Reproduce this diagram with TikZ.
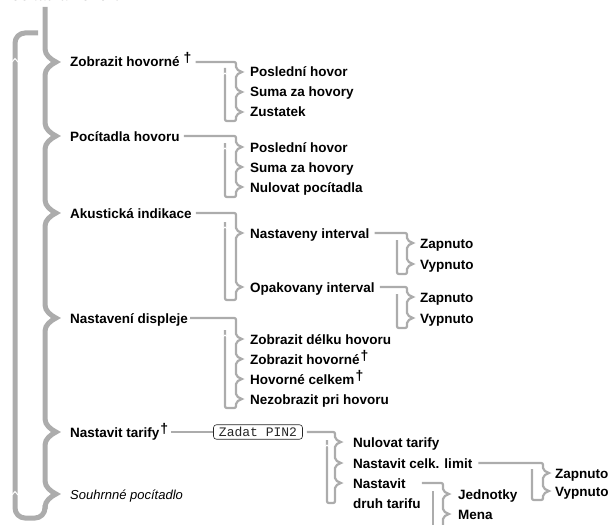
\documentclass[tikz,border=0pt]{standalone}
\usepackage{fontspec}
\setmainfont{Liberation Sans}
\newfontfamily\monof{Liberation Mono}
\definecolor{lg}{RGB}{172,172,172}
\newcommand\dg{\raisebox{4pt}{\bfseries\fontsize{14}{14}\selectfont †}}
\tikzset{
  itm/.style={anchor=west, inner sep=0pt, text height=10pt, text depth=0pt, font=\bfseries\fontsize{13.5}{16}\selectfont},
  mainln/.style={draw=lg, line width=5pt},
  subln/.style={draw=lg, line width=2.2pt},
  gapmark/.style={draw=white, line width=1pt},
  mtip/.style 2 args={insert path={-- (#1,{#2-13}) .. controls (#1,{#2-7}) and ({#1+6},{#2-2.5}) .. ({#1+11},{#2}) .. controls ({#1+6},{#2+2.5}) and (#1,{#2+7}) .. (#1,{#2+13})}},
  rtip/.style 2 args={insert path={-- (#1,{#2-5}) .. controls (#1,{#2-2.5}) and ({#1+3},{#2-1.2}) .. ({#1+6},{#2}) .. controls ({#1+3},{#2+1.2}) and (#1,{#2+2.5}) .. (#1,{#2+5})}},
}
\begin{document}
\begin{tikzpicture}[x=1pt,y=-1pt]
\useasboundingbox (0,0) rectangle (612,524);

% ---- text nodes ----
\node[itm, font=\bfseries\fontsize{15}{18}\selectfont] (ttl) at (1,-4) {Pocítadla hovoru};

\node[itm] (zh) at (70,62) {Zobrazit hovorné\hspace{4pt}\dg};
\node[itm] (ph) at (70,136) {Pocítadla hovoru};
\node[itm] (ai) at (70,213) {Akustická indikace};
\node[itm] (nd) at (70,318) {Nastavení displeje};
\node[itm] (nt) at (70,432) {Nastavit tarify\hspace{1pt}\dg};
\node[itm, font=\itshape\fontsize{13}{16}\selectfont] (sp) at (70,494) {Souhrnné pocítadlo};

\node[itm] (zh1) at (250,72) {Poslední hovor};
\node[itm] (zh2) at (250,92) {Suma za hovory};
\node[itm] (zh3) at (250,112) {Zustatek};

\node[itm] (ph1) at (250,147) {Poslední hovor};
\node[itm] (ph2) at (250,167) {Suma za hovory};
\node[itm] (ph3) at (250,187) {Nulovat pocítadla};

\node[itm] (ni) at (250,233) {Nastaveny interval};
\node[itm] (oi) at (250,287) {Opakovany interval};
\node[itm] (ni1) at (420,243) {Zapnuto};
\node[itm] (ni2) at (420,264) {Vypnuto};
\node[itm] (oi1) at (420,297) {Zapnuto};
\node[itm] (oi2) at (420,318) {Vypnuto};

\node[itm] (nd1) at (250,339) {Zobrazit délku hovoru};
\node[itm] (nd2) at (250,359) {Zobrazit hovorné\hspace{1pt}\dg};
\node[itm] (nd3) at (250,379) {Hovorné celkem\hspace{1pt}\dg};
\node[itm] (nd4) at (250,399) {Nezobrazit pri hovoru};

\node[draw=black!85, line width=0.6pt, rounded corners=3pt, inner xsep=5.5pt, inner ysep=2.5pt,
      text height=9pt, text depth=0.5pt, text=black!85, font=\monof\fontsize{13}{14}\selectfont]
      (zp) at (258,432) {Zadat PIN2};

\node[itm] (nt1) at (353,442) {Nulovat tarify};
\node[itm] (cl) at (353,463) {Nastavit celk. limit};
\node[itm, font=\bfseries\fontsize{13.5}{20}\selectfont] (ndt) at (353,483)
      {\begin{tabular}[t]{@{}l@{}}Nastavit\\druh tarifu\end{tabular}};

\node[itm] (cl1) at (555,473) {Zapnuto};
\node[itm] (cl2) at (555,491) {Vypnuto};
\node[itm] (dt1) at (458,494) {Jednotky};
\node[itm] (dt2) at (458,514) {Mena};

% ---- main left structure ----
\draw[mainln] (45,7) [mtip={45}{62}] [mtip={45}{136}] [mtip={45}{213}]
   [mtip={45}{318}] [mtip={45}{432}] [mtip={45}{494}] -- (45,509);
\draw[mainln, rounded corners=10pt] (38,33) -- (15,33) -- (15,518) -- (45,518) -- (45,505);
\draw[gapmark] (12,62) -- (15,58.5) -- (18,62);
\draw[gapmark] (12,495) -- (15,491.5) -- (18,495);

% ---- sub brackets ----
% Zobrazit hovorne
\draw[subln] ([xshift=4pt]zh.east) -- (232,62) .. controls (236,62) .. (236,66)
  [rtip={236}{72}] [rtip={236}{92}] [rtip={236}{112}]
  -- (236,117) .. controls (236,121) .. (232,121) -- (229,121) .. controls (225,121) .. (225,117) -- (225,68);
\draw[gapmark] (223,75) -- (225,73) -- (227,75);
% Pocitadla hovoru
\draw[subln] ([xshift=4pt]ph.east) -- (232,136) .. controls (236,136) .. (236,140)
  [rtip={236}{147}] [rtip={236}{167}] [rtip={236}{187}]
  -- (236,193) .. controls (236,197) .. (232,197) -- (229,197) .. controls (225,197) .. (225,193) -- (225,143);
\draw[gapmark] (223,150) -- (225,148) -- (227,150);
% Akusticka indikace
\draw[subln] ([xshift=4pt]ai.east) -- (232,213) .. controls (236,213) .. (236,217)
  [rtip={236}{233}] [rtip={236}{287}]
  -- (236,296) .. controls (236,300) .. (232,300) -- (229,300) .. controls (225,300) .. (225,296) -- (225,222);
\draw[gapmark] (223,229) -- (225,227) -- (227,229);
% Nastaveny interval
\draw[subln] ([xshift=5pt]ni.east) -- (403,233) .. controls (407,233) .. (407,237)
  [rtip={407}{243}] [rtip={407}{264}]
  -- (407,270) .. controls (407,274) .. (403,274) -- (401,274) .. controls (397,274) .. (397,270) -- (397,240);
% Opakovany interval
\draw[subln] ([xshift=5pt]oi.east) -- (403,287) .. controls (407,287) .. (407,291)
  [rtip={407}{297}] [rtip={407}{318}]
  -- (407,324) .. controls (407,328) .. (403,328) -- (401,328) .. controls (397,328) .. (397,324) -- (397,294);
% Nastaveni displeje
\draw[subln] ([xshift=2pt]nd.east) -- (232,318) .. controls (236,318) .. (236,322)
  [rtip={236}{339}] [rtip={236}{359}] [rtip={236}{379}] [rtip={236}{399}]
  -- (236,404) .. controls (236,408) .. (232,408) -- (229,408) .. controls (225,408) .. (225,404) -- (225,330);
\draw[gapmark] (223,337) -- (225,335) -- (227,337);
% Nastavit tarify -> Zadat PIN2
\draw[subln] ([xshift=3pt]nt.east) -- (zp.west);
\draw[subln] ([xshift=4pt]zp.east) -- (331,432) .. controls (335,432) .. (335,436)
  [rtip={335}{442}] [rtip={335}{463}] [rtip={335}{483}]
  -- (335,499) .. controls (335,503) .. (331,503) -- (331,503) .. controls (327,503) .. (327,499) -- (327,440);
\draw[gapmark] (325,447) -- (327,445) -- (329,447);
% Nastavit celk. limit
\draw[subln] ([xshift=6pt]cl.east) -- (539,463) .. controls (543,463) .. (543,467)
  [rtip={543}{473}] [rtip={543}{491}]
  -- (543,496) .. controls (543,500) .. (539,500) -- (536,500) .. controls (532,500) .. (532,496) -- (532,469);
% Nastavit druh tarifu
\draw[subln] ([xshift=1pt]ndt.east) -- (439,483) .. controls (443,483) .. (443,487)
  [rtip={443}{494}] [rtip={443}{514}]
  -- (443,535);
\draw[subln] (433,491) -- (433,535);
\end{tikzpicture}
\end{document}
